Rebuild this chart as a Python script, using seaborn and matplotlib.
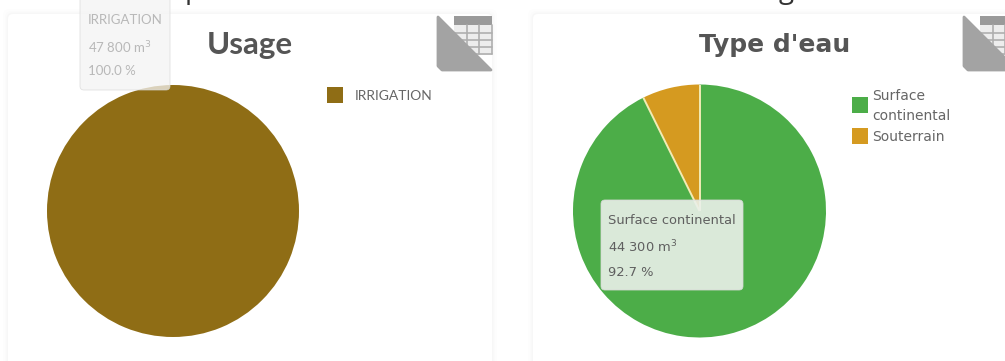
import math

import matplotlib
matplotlib.use("Agg")
import matplotlib.pyplot as plt
from matplotlib.patches import FancyBboxPatch, Polygon, Rectangle
import seaborn as sns

sns.set_theme(style="white")

W, H = 1005, 361

usage_labels = ["IRRIGATION"]
usage_values = [47800]
usage_colors = ["#8F6D15"]

water_labels = ["Surface\ncontinental", "Souterrain"]
water_values = [44300, 3500]
water_colors = ["#4CAD48", "#D59A20"]

fig = plt.figure(figsize=(W / 100, H / 100), dpi=100, facecolor="white")
ax = fig.add_axes([0, 0, 1, 1])
ax.set_axis_off()


def Y(y):
    """Convert a distance from the top edge to the upward axis coordinate."""
    return H - y


def card(x0, x1):
    # Soft shadow built from stacked translucent outlines, then the white card
    for grow, alpha in ((5, 0.006), (3, 0.009), (1.5, 0.016)):
        ax.add_patch(FancyBboxPatch((x0 - grow, Y(375)), x1 - x0 + 2 * grow, 375 - 14 + grow,
                                    boxstyle="round,pad=0,rounding_size=6", fc="#000000",
                                    ec="none", alpha=alpha, zorder=1))
    ax.add_patch(FancyBboxPatch((x0, Y(375)), x1 - x0, 375 - 14,
                                boxstyle="round,pad=0,rounding_size=5", fc="white",
                                ec="none", zorder=1.5))


def table_icon(x_right):
    # Folded corner holding a small spreadsheet glyph
    x0 = x_right - 55
    tx0, tx1, ty0, ty1 = x0 + 17, x_right, 16, 55
    ax.add_patch(Rectangle((tx0, Y(ty1)), tx1 - tx0, ty1 - ty0, fc="#EDEDED", ec="none", zorder=2.1))
    ax.add_patch(Rectangle((tx0, Y(ty0 + 9)), tx1 - tx0, 9, fc="#9A9A9A", ec="none", zorder=2.2))
    for yy in (33, 40, 47, 54):
        ax.plot([tx0, tx1], [Y(yy), Y(yy)], color="#AFAFAF", lw=1.2, zorder=2.3)
    for xx in (tx0 + 13, tx0 + 25, tx1):
        ax.plot([xx, xx], [Y(ty0 + 9), Y(54)], color="#AFAFAF", lw=1.2, zorder=2.3)
    # The grey fold covers the lower left half of the glyph
    ax.add_patch(Polygon([(x0 + 1, Y(17)), (x0 + 1, Y(66)), (x0 + 5, Y(70)), (x_right - 1, Y(70))],
                         closed=True, fc="#A3A3A3", ec="#A3A3A3", lw=2, joinstyle="round",
                         zorder=2.4))


def fmt(v):
    return f"{v:,}".replace(",", " ")


def tooltip(x0, y0, x1, y1, face, alpha, label, value, total, color, family, xpad, size):
    ax.add_patch(FancyBboxPatch((x0, Y(y1)), x1 - x0, y1 - y0,
                                boxstyle="round,pad=0,rounding_size=4", fc=face, ec="#D8D8D8",
                                lw=0.6, alpha=alpha, zorder=6))
    ax.text(x0 + xpad, Y(y0 + 20 if y0 > 0 else 20), label, color=color, fontsize=size,
            family=family, va="center", zorder=7)
    ax.text(x0 + xpad, Y(y0 + 47 if y0 > 0 else 48), f"{fmt(value)} m$^{{3}}$", color=color,
            fontsize=size, family=family, va="center", zorder=7, math_fontfamily="dejavusans")
    ax.text(x0 + xpad, Y(y0 + 72 if y0 > 0 else 71), f"{value / total * 100:.1f} %", color=color,
            fontsize=size, family=family, va="center", zorder=7)


card(8, 492)
card(533, 1030)
table_icon(492)
table_icon(1018)

# Pies start at twelve o'clock and run clockwise
ax.pie(usage_values, colors=usage_colors, center=(173, Y(211)), radius=126, startangle=90,
       counterclock=False, frame=True, wedgeprops=dict(edgecolor="none", zorder=3))
WATER_CENTER = (699.5, Y(211))
WATER_RADIUS = 126.5
ax.pie(water_values, colors=water_colors, center=WATER_CENTER, radius=WATER_RADIUS, startangle=90,
       counterclock=False, frame=True, wedgeprops=dict(edgecolor="none", zorder=3))

# Pale separators along the two slice boundaries
for share in (0.0, water_values[0] / sum(water_values)):
    angle = math.pi / 2 - 2 * math.pi * share
    ax.plot([WATER_CENTER[0], WATER_CENTER[0] + WATER_RADIUS * math.cos(angle)],
            [WATER_CENTER[1], WATER_CENTER[1] + WATER_RADIUS * math.sin(angle)],
            color="#F2EBB5", lw=1.4, solid_capstyle="butt", zorder=3.5)

ax.set_xlim(0, W)
ax.set_ylim(0, H)
ax.set_aspect("auto")
ax.set_axis_off()

# Titles
ax.text(250, Y(45), "Usage", fontsize=22.5, fontweight="bold", family="Lato",
        color="#555555", ha="center", va="center", zorder=5)
ax.text(775, Y(45), "Type d'eau", fontsize=18, fontweight="bold", family="DejaVu Sans",
        color="#555555", ha="center", va="center", zorder=5)

# Descenders of the heading line cut off by the top edge
ax.text(193, Y(-9), "p", fontsize=20, family="Open Sans", color="#333333",
        ha="center", va="center", zorder=5)
ax.text(786, Y(-9), "g", fontsize=20, family="Open Sans", color="#333333",
        ha="center", va="center", zorder=5)

# Legends
ax.add_patch(Rectangle((327, Y(103)), 16, 16, fc=usage_colors[0], ec="none", zorder=5))
ax.text(355, Y(96), usage_labels[0], fontsize=10, family="Lato", color="#666666",
        va="center", zorder=5)

ax.add_patch(Rectangle((852, Y(113)), 16, 16, fc=water_colors[0], ec="none", zorder=5))
ax.text(872, Y(106), water_labels[0], fontsize=10, family="DejaVu Sans", color="#666666",
        va="center", linespacing=1.6, zorder=5)
ax.add_patch(Rectangle((852, Y(144)), 16, 16, fc=water_colors[1], ec="none", zorder=5))
ax.text(872, Y(137), water_labels[1], fontsize=10, family="DejaVu Sans", color="#666666",
        va="center", zorder=5)

# Hover tooltips
tooltip(80, -12, 170, 90, "#F4F4F4", 0.75, usage_labels[0], usage_values[0], sum(usage_values),
        "#B8B8B8", "Lato", 8, 9.5)
tooltip(601, 200, 743, 290, "#EAF0EA", 0.9, water_labels[0].replace("\n", " "), water_values[0],
        sum(water_values), "#5F5F5F", "DejaVu Sans", 7, 9.4)

fig.savefig("out.png", dpi=100)
